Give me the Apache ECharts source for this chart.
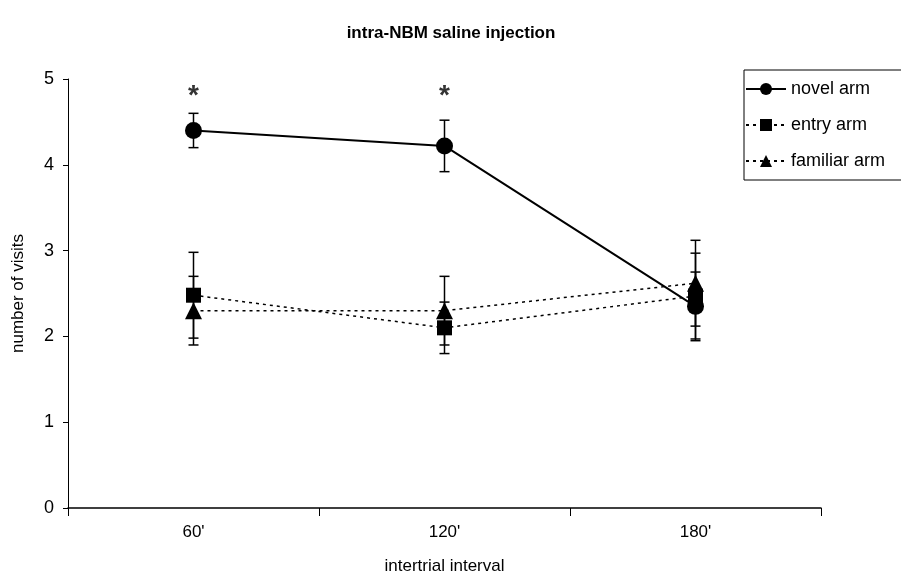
<!DOCTYPE html>
<html>
<head>
<meta charset="utf-8">
<script src="https://cdn.jsdelivr.net/npm/echarts@6/dist/echarts.min.js"></script>
<style>
html, body { margin: 0; padding: 0; background: #fff; }
#chart { width: 901px; height: 582px; }
</style>
</head>
<body>
<div id="chart"></div>
<script>
// values (mean and SEM)
var categories = ["60'", "120'", "180'"];
var novelMean = [4.4, 4.22, 2.35];
var novelErr = [0.2, 0.3, 0.4];
var entryMean = [2.48, 2.1, 2.47];
var entryErr = [0.5, 0.3, 0.5];
var familiarMean = [2.3, 2.3, 2.62];
var familiarErr = [0.4, 0.4, 0.5];
var starLevel = [4.8, 4.8, null];
var yTicks = [0, 1, 2, 3, 4, 5];

var FONT = 'Liberation Sans';

function errData(mean, err) {
	var out = [];
	for (var i = 0; i < mean.length; i++) {
		out.push([i, mean[i] - err[i], mean[i] + err[i]]);
	}
	return out;
}

function errSeries(name, mean, err) {
	return {
		name: name + ' err',
		type: 'custom',
		z: 1,
		silent: true,
		renderItem: function (params, api) {
			var lo = api.coord([api.value(0), api.value(1)]);
			var hi = api.coord([api.value(0), api.value(2)]);
			var w = 5;
			var st = { stroke: '#000', lineWidth: 1.5 };
			return {
				type: 'group',
				children: [
					{ type: 'line', shape: { x1: lo[0], y1: lo[1], x2: hi[0], y2: hi[1] }, style: st },
					{ type: 'line', shape: { x1: lo[0] - w, y1: lo[1], x2: lo[0] + w, y2: lo[1] }, style: st },
					{ type: 'line', shape: { x1: hi[0] - w, y1: hi[1], x2: hi[0] + w, y2: hi[1] }, style: st }
				]
			};
		},
		encode: { x: 0, y: [1, 2] },
		data: errData(mean, err)
	};
}

function showChart(divId) {
	var chart = echarts.init(document.getElementById(divId));
	var option = genOption();
	chart.setOption(option, true);
}

function genOption() {
	var option = {
		animation: false,
		backgroundColor: '#fff',
		title: {
			text: 'intra-NBM saline injection',
			left: 446,
			textAlign: 'center',
			top: 20,
			textStyle: { fontFamily: FONT, fontSize: 17, fontWeight: 'bold', color: '#000' }
		},
		legend: {
			orient: 'vertical',
			left: 744,
			top: 70,
			padding: [10, 20, 10, 1],
			itemGap: 18,
			itemWidth: 40,
			itemHeight: 15,
			borderColor: '#000',
			borderWidth: 1,
			textStyle: { fontFamily: FONT, fontSize: 18, color: '#000' },
			data: ['novel arm', 'entry arm', 'familiar arm']
		},
		grid: { left: 68, right: 80, top: 79, bottom: 74 },
		xAxis: {
			type: 'category',
			data: categories,
			boundaryGap: true,
			name: 'intertrial interval',
			nameLocation: 'middle',
			nameGap: 50,
			nameTextStyle: { fontFamily: FONT, fontSize: 17, color: '#000' },
			axisLine: { lineStyle: { color: '#000', width: 1.5 } },
			axisTick: { show: true, length: 8, lineStyle: { color: '#000' } },
			axisLabel: { fontFamily: FONT, fontSize: 17, color: '#000', margin: 16 },
			splitLine: { show: false }
		},
		yAxis: {
			type: 'value',
			min: yTicks[0],
			max: yTicks[yTicks.length - 1],
			interval: 1,
			name: 'number of visits',
			nameLocation: 'middle',
			nameGap: 41,
			nameTextStyle: { fontFamily: FONT, fontSize: 17, color: '#000' },
			axisLine: { show: true, lineStyle: { color: '#000', width: 1 } },
			axisTick: { show: true, length: 5, lineStyle: { color: '#000' } },
			axisLabel: { fontFamily: FONT, fontSize: 18, color: '#000', margin: 14 },
			splitLine: { show: false }
		},
		series: [
			errSeries('novel arm', novelMean, novelErr),
			errSeries('entry arm', entryMean, entryErr),
			errSeries('familiar arm', familiarMean, familiarErr),
			{
				name: 'novel arm',
				type: 'line',
				z: 3,
				data: novelMean,
				symbol: 'circle',
				symbolSize: 17,
				itemStyle: { color: '#000' },
				lineStyle: { color: '#000', width: 2, type: 'solid' }
			},
			{
				name: 'entry arm',
				type: 'line',
				z: 3,
				data: entryMean,
				symbol: 'rect',
				symbolSize: 15,
				itemStyle: { color: '#000' },
				lineStyle: { color: '#000', width: 1.5, type: [3, 4] }
			},
			{
				name: 'familiar arm',
				type: 'line',
				z: 3,
				data: familiarMean,
				symbol: 'triangle',
				symbolSize: 17,
				itemStyle: { color: '#000' },
				lineStyle: { color: '#000', width: 1.5, type: [3, 4] }
			},
			{
				name: 'significance',
				type: 'scatter',
				z: 4,
				silent: true,
				symbolSize: 1,
				itemStyle: { color: 'rgba(0,0,0,0)' },
				data: starLevel,
				label: {
					show: true,
					position: 'inside',
					formatter: '*',
					fontFamily: FONT,
					fontSize: 28,
					fontWeight: 'bold',
					color: '#000'
				}
			}
		]
	};
	return option;
}

showChart('chart');
</script>
</body>
</html>
